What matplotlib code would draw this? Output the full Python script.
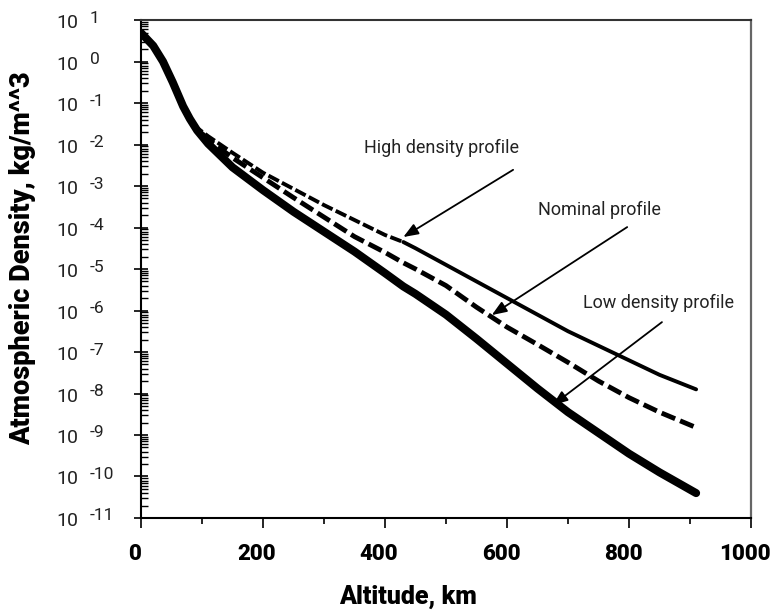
import numpy as np
import matplotlib
matplotlib.use("Agg")
import matplotlib.pyplot as plt
import matplotlib.transforms as mtransforms
from matplotlib.ticker import LogLocator, MultipleLocator, NullFormatter

# altitude grid (km) and log10 of density (kg/m^3)
alt = [0, 20, 36, 52, 69, 80, 92, 110, 150, 200, 250, 300, 350, 400, 430,
       450, 500, 550, 600, 650, 700, 750, 800, 850, 910]
low_log = [0.69, 0.38, 0.0, -0.5, -1.08, -1.38, -1.66, -1.98, -2.55, -3.1,
           -3.62, -4.1, -4.58, -5.1, -5.42, -5.6, -6.1, -6.68, -7.28, -7.88,
           -8.45, -8.95, -9.45, -9.9, -10.4]
nom_log = [0.69, 0.38, 0.0, -0.5, -1.08, -1.38, -1.62, -1.88, -2.32, -2.8,
           -3.28, -3.75, -4.22, -4.6, -4.85, -5.0, -5.4, -5.92, -6.4, -6.82,
           -7.25, -7.7, -8.1, -8.45, -8.82]
high_log = [0.69, 0.38, 0.0, -0.5, -1.08, -1.38, -1.6, -1.8, -2.2, -2.68,
            -3.07, -3.46, -3.82, -4.18, -4.35, -4.5, -4.9, -5.3, -5.7, -6.1,
            -6.5, -6.85, -7.2, -7.55, -7.9]
high_dash_end = 430  # high profile drawn broken up to here, solid after

decades = list(range(-11, 2))

alt = np.array(alt)
low = 10.0 ** np.array(low_log)
nom = 10.0 ** np.array(nom_log)
high = 10.0 ** np.array(high_log)

fig = plt.figure(figsize=(7.74, 6.12), dpi=100)
ax = fig.add_axes([0.1822, 0.1536, 0.7881, 0.8137])

ax.plot(alt, low, color='black', lw=5.8, solid_capstyle='round',
        solid_joinstyle='round')
ax.plot(alt, nom, color='black', lw=3.5, linestyle=(0, (3, 1.1)))
m1 = alt <= high_dash_end
m2 = alt >= high_dash_end
ax.plot(alt[m1], high[m1], color='black', lw=2.8, linestyle=(0, (3, 0.9)))
ax.plot(alt[m2], high[m2], color='black', lw=2.8, solid_capstyle='round',
        solid_joinstyle='round')

ax.set_yscale('log')
ax.set_xlim(0, 1000)
ax.set_ylim(1e-11, 1e1)

ax.xaxis.set_major_locator(MultipleLocator(200))
ax.xaxis.set_minor_locator(MultipleLocator(100))
ax.yaxis.set_major_locator(LogLocator(base=10, numticks=20))
ax.yaxis.set_minor_locator(LogLocator(base=10, subs=np.arange(2, 10), numticks=20))
ax.yaxis.set_minor_formatter(NullFormatter())

ax.tick_params(axis='x', which='major', direction='out', length=7, width=1.2, pad=11)
ax.tick_params(axis='x', which='minor', direction='out', length=4, width=1.2)
ax.tick_params(axis='y', which='major', direction='inout', length=10, width=1.2, labelleft=False)
ax.tick_params(axis='y', which='minor', direction='in', length=5, width=1.0)

shift = mtransforms.ScaledTranslation(-6 / 100, 0, fig.dpi_scale_trans)
for lab in ax.get_xticklabels():
    lab.set_family(['Roboto', 'DejaVu Sans'])
    lab.set_fontweight('black')
    lab.set_fontsize(16)
    lab.set_transform(lab.get_transform() + shift)

# "10" with raised exponent, as in the original labels
ytr = ax.get_yaxis_transform()
for e in decades:
    ax.annotate('10', xy=(0, 10.0 ** e), xycoords=ytr, xytext=(-63, -3),
                textcoords='offset pixels', ha='right', va='center',
                fontsize=14, family=['Roboto', 'DejaVu Sans'], color='#222222')
    ax.annotate(str(e), xy=(0, 10.0 ** e), xycoords=ytr, xytext=(-51, 2),
                textcoords='offset pixels', ha='left', va='center',
                fontsize=12.5, family=['Roboto', 'DejaVu Sans'], color='#222222')

for s in ['left', 'bottom']:
    ax.spines[s].set_linewidth(1.5)
    ax.spines[s].set_color('black')
ax.spines['top'].set_linewidth(1.5)
ax.spines['top'].set_color('#333333')
ax.spines['right'].set_linewidth(1.6)
ax.spines['right'].set_color('#666666')

ax.set_xlabel('Altitude, km', fontsize=18, fontweight='black',
              family=['Roboto', 'DejaVu Sans'])
ax.xaxis.set_label_coords(0.438, -0.159)
ax.xaxis.label.set_va('center')
ax.set_ylabel('Atmospheric Density, kg/m^^3', fontsize=19.5, fontweight='black',
              family=['Roboto', 'DejaVu Sans'])
ax.yaxis.set_label_coords(-0.195, 0.522)
ax.yaxis.label.set_va('center')

arrow = dict(arrowstyle='-|>,head_length=0.9,head_width=0.35', color='black',
             lw=1.3, shrinkA=0, shrinkB=0)
afont = dict(fontsize=13, family=['Roboto', 'DejaVu Sans'], color='#222222',
             ha='center', va='center')

ax.text(492, 10 ** -2.08, 'High density profile', **afont)
ax.annotate('', xy=(430, 10 ** -4.23), xytext=(610, 10 ** -2.61), arrowprops=arrow)
ax.text(752, 10 ** -3.58, 'Nominal profile', **afont)
ax.annotate('', xy=(575, 10 ** -6.11), xytext=(797, 10 ** -3.99), arrowprops=arrow)
ax.text(849, 10 ** -5.82, 'Low density profile', **afont)
ax.annotate('', xy=(675, 10 ** -8.28), xytext=(854, 10 ** -6.28), arrowprops=arrow)

fig.savefig('out.png', dpi=100)
